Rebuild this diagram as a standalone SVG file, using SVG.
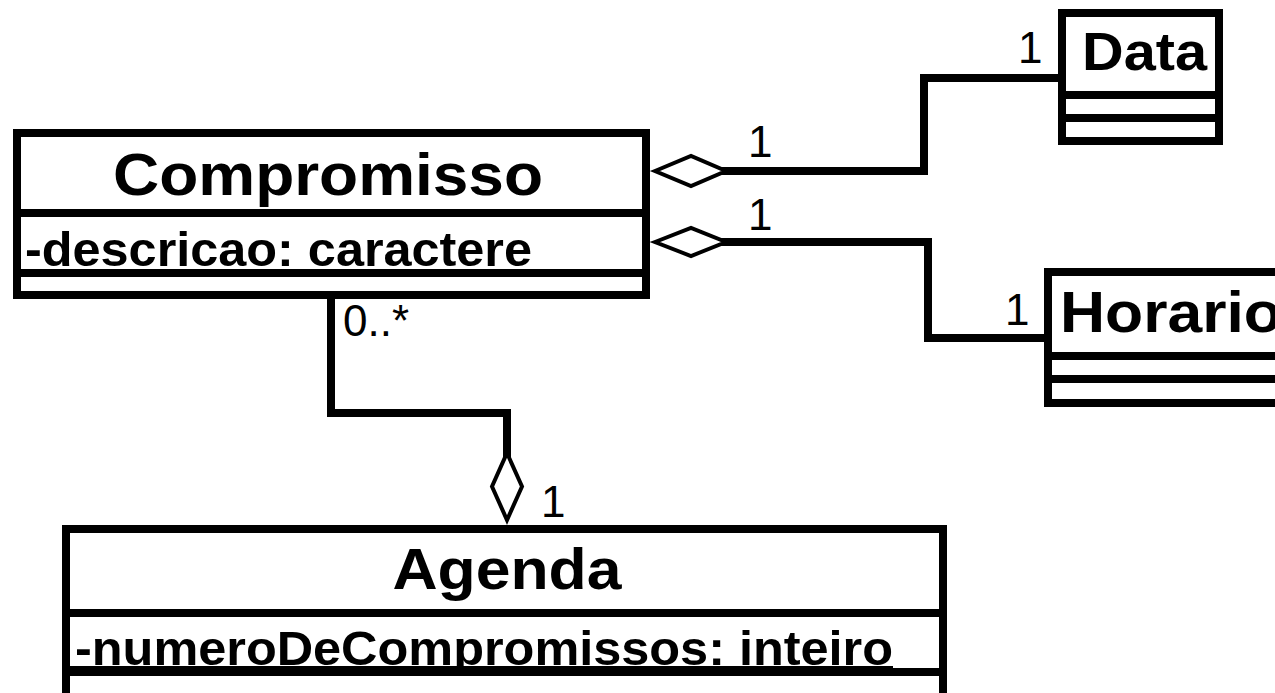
<svg xmlns="http://www.w3.org/2000/svg" width="1275" height="693" viewBox="0 0 1275 693">
<style>
.box{fill:#fff;stroke:#000;stroke-width:8}
.div{stroke:#000;stroke-width:8}
.conn{fill:none;stroke:#000;stroke-width:8;stroke-linejoin:miter}
.dia{fill:#fff;stroke:#000;stroke-width:4;stroke-linejoin:miter;stroke-miterlimit:10}
.name{font-family:"Liberation Sans",Arial,sans-serif;font-weight:bold;fill:#000}
.attr{font-family:"Liberation Sans",Arial,sans-serif;font-weight:bold;font-size:48px;fill:#000}
.mult{font-family:"Liberation Sans",Arial,sans-serif;font-size:44px;fill:#000}
</style>
<rect width="1275" height="693" fill="#fff"/>
<g id="connectors">
<path class="conn" d="M700 171 H924 V78 H1058"/>
<path class="conn" d="M700 242 H928 V338 H1044"/>
<path class="conn" d="M331 299 V413 H507 V470"/>
<polygon class="dia" points="655,171 691,156 726,171 691,186"/>
<polygon class="dia" points="655,242 691,228 726,242 691,256"/>
<polygon class="dia" points="507,453 522,486.5 507,520 492,486.5"/>
<text class="mult" x="748" y="157">1</text>
<text class="mult" x="748" y="230">1</text>
<text class="mult" x="1018" y="63">1</text>
<text class="mult" x="1005" y="325">1</text>
<text class="mult" x="343" y="336">0..*</text>
<text class="mult" x="541" y="517">1</text>
</g>
<g id="Compromisso">
<rect class="box" x="17" y="133" width="629" height="162"/>
<line class="div" x1="17" y1="213" x2="646" y2="213"/>
<line class="div" x1="17" y1="273" x2="646" y2="273"/>
<text class="name" x="328" y="195" font-size="60" text-anchor="middle" textLength="430" lengthAdjust="spacingAndGlyphs">Compromisso</text>
<text class="attr" x="25" y="266" textLength="507" lengthAdjust="spacingAndGlyphs">-descricao: caractere</text>
</g>
<g id="Data">
<rect class="box" x="1062" y="13" width="157" height="128"/>
<line class="div" x1="1062" y1="95" x2="1219" y2="95"/>
<line class="div" x1="1062" y1="118" x2="1219" y2="118"/>
<text class="name" x="1144.5" y="70" font-size="53" text-anchor="middle" textLength="125" lengthAdjust="spacingAndGlyphs">Data</text>
</g>
<g id="Horario">
<rect class="box" x="1048" y="272" width="300" height="131"/>
<line class="div" x1="1048" y1="356" x2="1348" y2="356"/>
<line class="div" x1="1048" y1="379" x2="1348" y2="379"/>
<text class="name" x="1060" y="332" font-size="58" textLength="222" lengthAdjust="spacingAndGlyphs">Horario</text>
</g>
<g id="Agenda">
<rect class="box" x="66" y="529" width="877" height="200"/>
<line class="div" x1="66" y1="613" x2="943" y2="613"/>
<line class="div" x1="66" y1="672" x2="943" y2="672"/>
<line x1="70" y1="667" x2="893" y2="667" stroke="#000" stroke-width="2"/>
<text class="name" x="507" y="589" font-size="58" text-anchor="middle" textLength="229" lengthAdjust="spacingAndGlyphs">Agenda</text>
<text class="attr" x="75" y="665" textLength="818" lengthAdjust="spacingAndGlyphs">-numeroDeCompromissos: inteiro</text>
</g>
</svg>
